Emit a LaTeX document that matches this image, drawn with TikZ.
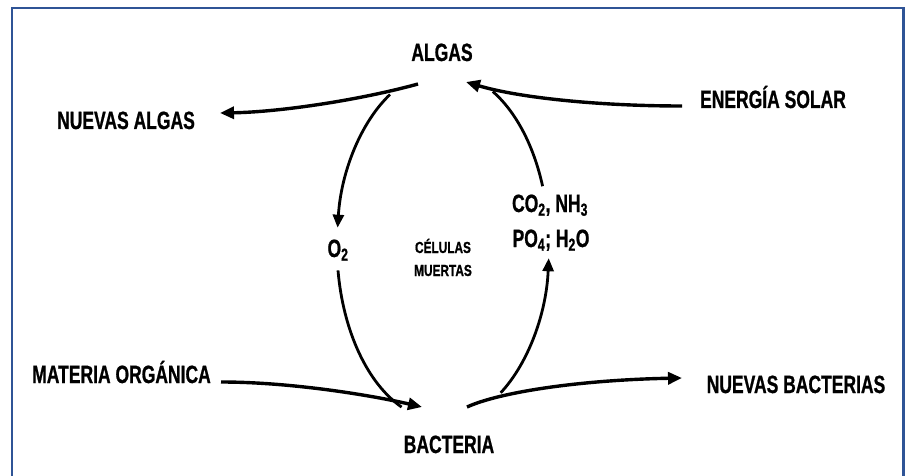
\documentclass[tikz,border=0pt]{standalone}
\usepackage{fontspec}
\newfontfamily\cond[FakeStretch=0.70,FakeBold=0.8]{Liberation Sans}
\newfontfamily\condsmall[FakeStretch=0.74,FakeBold=0.8]{Liberation Sans}
\usetikzlibrary{arrows.meta}
\definecolor{framec}{RGB}{47,84,150}
\begin{document}
\begin{tikzpicture}[x=1pt,y=-1pt,
  lbl/.style={font=\cond\bfseries\fontsize{25}{27}\selectfont, inner sep=0pt, anchor=base},
  smalllbl/.style={font=\condsmall\bfseries\fontsize{16}{18}\selectfont, inner sep=0pt, anchor=base},
  flow/.style={line width=3.4pt, -{Triangle[length=14pt,width=12pt]}},
  cyc/.style={line width=2.8pt},
  cyca/.style={cyc, -{Triangle[length=13pt,width=11pt]}}]
\useasboundingbox (0,0) rectangle (905,476);
\fill[white] (0,0) rectangle (905,476);
% frame
\draw[framec, line width=2.8pt] (12,476) -- (12,8) -- (903.5,8) -- (903.5,476);

% labels
\node[lbl] (algas) at (442,61) {ALGAS};
\node[lbl] (nalgas) at (126,129) {NUEVAS ALGAS};
\node[lbl] (solar) at (773,108) {ENERGÍA SOLAR};
\node[lbl] (materia) at (121.5,383) {MATERIA ORGÁNICA};
\node[lbl] (bacteria) at (449,453) {BACTERIA};
\node[lbl] (nbact) at (796,393) {NUEVAS BACTERIAS};
\node[lbl] (o2) at (338,257) {O\textsubscript{2}};
\node[lbl] (co2) at (550,212) {CO\textsubscript{2}, NH\textsubscript{3}};
\node[lbl] (po4) at (551,247) {PO\textsubscript{4}; H\textsubscript{2}O};
\node[smalllbl] (celulas) at (443,253) {CÉLULAS};
\node[smalllbl] (muertas) at (443,276) {MUERTAS};

% connector end points
\coordinate (aL) at (418,84);
\coordinate (nalgasTip) at (220,113);
\coordinate (solarS) at (682,106);
\coordinate (aR) at (466,82);
\coordinate (materiaS) at (221,382);
\coordinate (bL) at (422,407);
\coordinate (bR) at (467,407);
\coordinate (nbactTip) at (682,378);
\coordinate (l1s) at (390,94.5);
\coordinate (l1e) at (337.6,227.7);
\coordinate (l2s) at (338,270.4);
\coordinate (l2e) at (401.6,407.1);
\coordinate (r1s) at (500.7,392.8);
\coordinate (r1e) at (548.7,258.2);
\coordinate (r2s) at (542.6,186.2);
\coordinate (r2e) at (492.8,91.5);

% main flows
\draw[flow] (aL) .. controls (360,100) and (280,112) .. (nalgasTip);
\draw[flow] (solarS) .. controls (600,106) and (520,98) .. (aR);
\draw[flow] (materiaS) .. controls (290,382) and (370,395) .. (bL);
\draw[flow] (bR) .. controls (500,392) and (580,380) .. (nbactTip);

% cycle arcs
\draw[cyca] (l1s) .. controls (360.6,122.5) and (341.1,172.0) .. (l1e);
\draw[cyc] (l2s) .. controls (343.2,331.2) and (367.3,383.1) .. (l2e);
\draw[cyca] (r1s) .. controls (528.6,362.8) and (546.4,313.0) .. (r1e);
\draw[cyc] (r2s) .. controls (533.7,145.5) and (515.9,111.8) .. (r2e);
\end{tikzpicture}
\end{document}
